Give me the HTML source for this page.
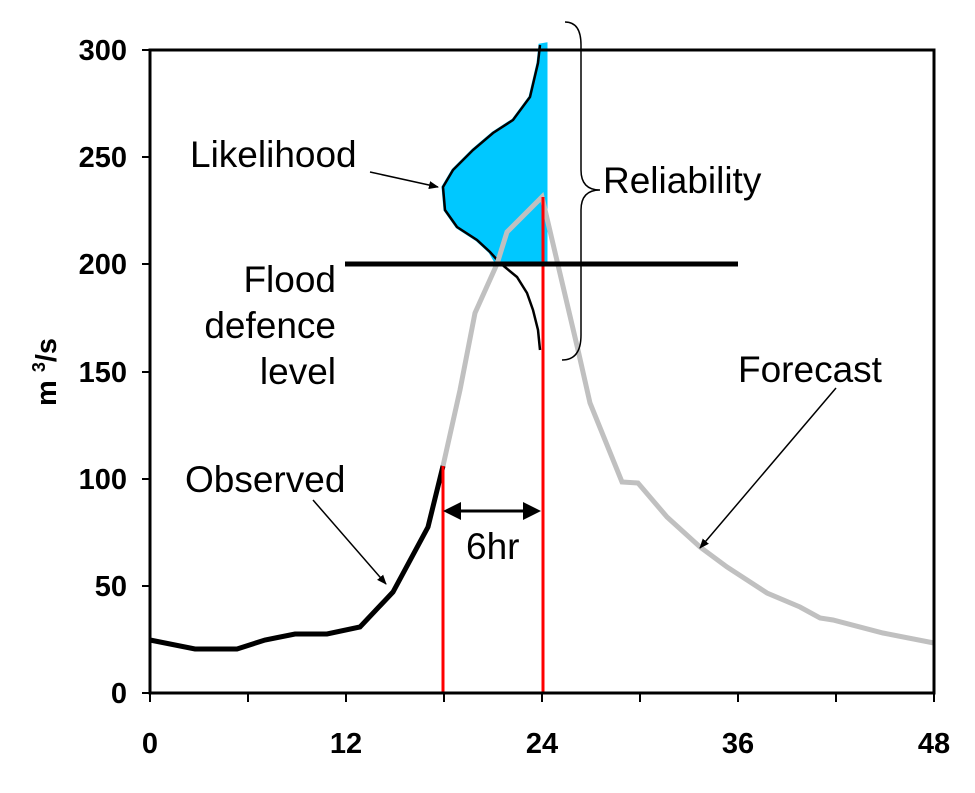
<!DOCTYPE html>
<html><head><style>body{margin:0;background:#fff}</style></head><body>
<svg width="975" height="788" xmlns="http://www.w3.org/2000/svg" font-family="Liberation Sans, Arial, sans-serif">
<defs><marker id="ah" markerWidth="10" markerHeight="8" refX="9" refY="4" orient="auto" markerUnits="userSpaceOnUse"><path d="M0,0L10,4L0,8z" fill="#000"/></marker></defs>
<path d="M546,44 L540,45 538,63 530,97 513,120 493,133 473,150 453,170 443,187 445,210 457,227 477,240 490,252 497,264 546,264Z" fill="#00c8ff" stroke="#00c8ff" stroke-width="3"/>
<polyline fill="none" stroke="#000" stroke-width="2.5" points="540,45 538,63 530,97 513,120 493,133 473,150 453,170 443,187 445,210 457,227 477,240 490,252 500,263 517,277 527,293 533,310 538,330 540,350"/>
<polyline fill="none" stroke="#c0c0c0" stroke-width="5" points="443,466 460,390 475,313 497,264 507,232 542,197 578,350 590,403 622,482 638,483 667,517 700,547 727,567 767,593 800,607 820,618 833,620 883,633 934,643"/>
<polyline fill="none" stroke="#000" stroke-width="5" points="150,640 195,649 237,649 265,640 295,634 327,634 360,627 393,592 428,527 443,466"/>
<line x1="443" y1="466" x2="443" y2="693" stroke="#f00" stroke-width="3"/>
<line x1="543" y1="197" x2="543" y2="693" stroke="#f00" stroke-width="3"/>
<line x1="345" y1="264" x2="738" y2="264" stroke="#000" stroke-width="5"/>
<rect x="150" y="50" width="784" height="643" fill="none" stroke="#000" stroke-width="3"/>
<g stroke="#000" stroke-width="2">
<line x1="142" y1="50" x2="150" y2="50"/><line x1="142" y1="157" x2="150" y2="157"/><line x1="142" y1="264" x2="150" y2="264"/><line x1="142" y1="372" x2="150" y2="372"/><line x1="142" y1="479" x2="150" y2="479"/><line x1="142" y1="586" x2="150" y2="586"/><line x1="142" y1="693" x2="150" y2="693"/>
<line x1="150" y1="693" x2="150" y2="702"/><line x1="248" y1="693" x2="248" y2="702"/><line x1="346" y1="693" x2="346" y2="702"/><line x1="444" y1="693" x2="444" y2="702"/><line x1="542" y1="693" x2="542" y2="702"/><line x1="640" y1="693" x2="640" y2="702"/><line x1="738" y1="693" x2="738" y2="702"/><line x1="836" y1="693" x2="836" y2="702"/><line x1="934" y1="693" x2="934" y2="702"/>
</g>
<g font-size="29" font-weight="bold" text-anchor="end">
<text x="127" y="60">300</text><text x="127" y="167">250</text><text x="127" y="274">200</text><text x="127" y="382">150</text><text x="127" y="489">100</text><text x="127" y="596">50</text><text x="127" y="703">0</text>
</g>
<g font-size="29" font-weight="bold" text-anchor="middle">
<text x="150" y="753">0</text><text x="346" y="753">12</text><text x="542" y="753">24</text><text x="738" y="753">36</text><text x="934" y="753">48</text>
</g>
<text transform="translate(56,372) rotate(-90)" font-size="29" font-weight="bold" text-anchor="middle">m <tspan font-size="18" dy="-11">3</tspan><tspan dy="11">/s</tspan></text>
<g font-size="37">
<text x="190" y="167">Likelihood</text>
<text x="603" y="193">Reliability</text>
<text x="336" y="292" text-anchor="end">Flood</text>
<text x="336" y="338" text-anchor="end">defence</text>
<text x="336" y="384" text-anchor="end">level</text>
<text x="185" y="492">Observed</text>
<text x="738" y="382">Forecast</text>
<text x="466" y="559">6hr</text>
</g>
<g stroke="#000" stroke-width="1.5" fill="none">
<line x1="370" y1="172" x2="438" y2="187" marker-end="url(#ah)"/>
<line x1="313" y1="500" x2="386" y2="584" marker-end="url(#ah)"/>
<line x1="836" y1="388" x2="700" y2="548" marker-end="url(#ah)"/>
<line x1="455" y1="511" x2="528" y2="511" stroke-width="3"/>
<path d="M565,22 Q581,22 581,45 L581,170 Q581,190 600,190 Q581,190 581,210 L581,335 Q581,360 562,360"/>
</g>
<path d="M443,511 L461,502 461,520Z M541,511 L523,502 523,520Z" fill="#000"/>
</svg>
</body></html>
